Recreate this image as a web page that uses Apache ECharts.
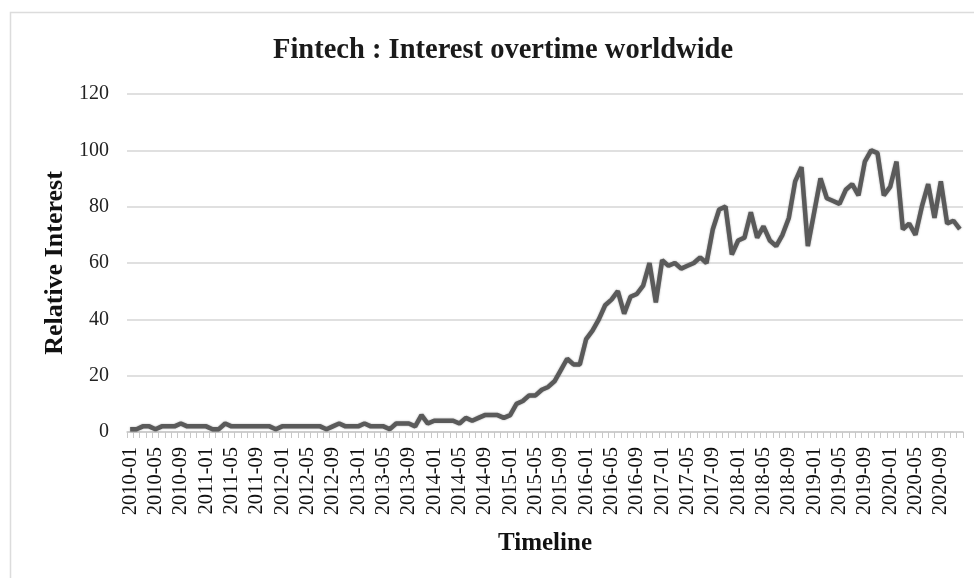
<!DOCTYPE html>
<html>
<head>
<meta charset="utf-8">
<script src="https://cdn.jsdelivr.net/npm/echarts@6/dist/echarts.min.js"></script>
<style>
html,body{margin:0;padding:0;background:#fff;}
#chart{width:974px;height:578px;}
</style>
</head>
<body>
<div id="chart"></div>
<script>
// Months 2010-01 .. 2020-12
const years = [2010,2011,2012,2013,2014,2015,2016,2017,2018,2019,2020];
const months = ['01','02','03','04','05','06','07','08','09','10','11','12'];
const categories = [];
years.forEach(y => months.forEach(m => categories.push(y + '-' + m)));

const interest = [
  1,1,2,2,1,2,2,2,3,2,2,2,
  2,1,1,3,2,2,2,2,2,2,2,1,
  2,2,2,2,2,2,2,1,2,3,2,2,
  2,3,2,2,2,1,3,3,3,2,6,3,
  4,4,4,4,3,5,4,5,6,6,6,5,
  6,10,11,13,13,15,16,18,22,26,24,24,
  33,36,40,45,47,50,42,48,49,52,60,46,
  61,59,60,58,59,60,62,60,72,79,80,63,
  68,69,78,69,73,68,66,70,76,89,94,66,
  78,90,83,82,81,86,88,84,96,100,99,84,
  87,96,72,74,70,80,88,76,89,74,75,72
];

const yTicks = [0,20,40,60,80,100,120];

const chart = echarts.init(document.getElementById('chart'), null, {renderer:'canvas'});
const serif = '"Liberation Serif", "Times New Roman", serif';
chart.setOption({
  animation:false,
  backgroundColor:'#ffffff',
  graphic:[{
    type:'rect', shape:{x:10.5,y:12.5,width:1000,height:600},
    style:{fill:'none',stroke:'#dcdcdc',lineWidth:1.5}, silent:true, z:-1
  }],
  title:{
    text:'Fintech : Interest overtime worldwide',
    left:268, top:31,
    textStyle:{fontFamily:serif,fontWeight:'bold',fontSize:28.5,color:'#1a1a1a'}
  },
  grid:{left:127,right:11,top:94,bottom:146},
  xAxis:{
    type:'category',
    data:categories,
    boundaryGap:true,
    name:'Timeline',
    nameLocation:'middle',
    nameGap:99,
    nameTextStyle:{fontFamily:serif,fontWeight:'bold',fontSize:25,color:'#111'},
    axisLine:{lineStyle:{color:'#c8c8c8',width:1.5}},
    axisTick:{show:true,interval:0,length:6,lineStyle:{color:'#c8c8c8'}},
    axisLabel:{
      interval:3, rotate:90, margin:15,
      fontFamily:serif, fontSize:20.5, color:'#111'
    },
    splitLine:{show:false}
  },
  yAxis:{
    type:'value',
    min:0,max:120,interval:20,
    name:'Relative Interest',
    nameLocation:'middle',
    nameGap:59,
    nameRotate:90,
    nameTextStyle:{fontFamily:serif,fontWeight:'bold',fontSize:26,color:'#111'},
    axisLine:{show:false},
    axisTick:{show:false},
    axisLabel:{
      margin:18,fontFamily:serif,fontSize:20,color:'#222',
      formatter:v => yTicks.includes(v) ? String(v) : ''
    },
    splitLine:{lineStyle:{color:'#d6d6d6',width:1.5}}
  },
  series:[{
    type:'line',
    data:interest,
    symbol:'none',
    smooth:false,
    lineStyle:{color:'#5a5a5a',width:4.5,shadowColor:'rgba(0,0,0,0.35)',shadowBlur:2},
    z:3
  }]
});
</script>
</body>
</html>
